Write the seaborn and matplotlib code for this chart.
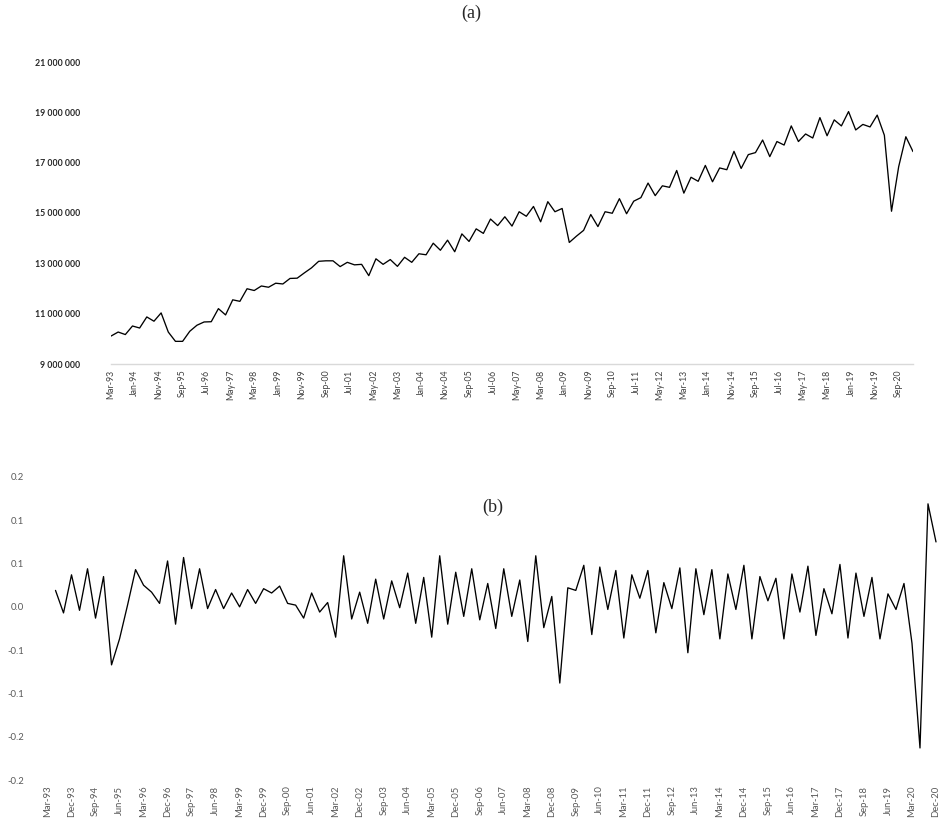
import numpy as np
import pandas as pd
import seaborn as sns
import matplotlib.pyplot as plt

# panel (a): quarterly level, Mar-93 .. Mar-21 (millions)
level_m = [
    10.11, 10.27, 10.17, 10.51, 10.43, 10.87, 10.70, 11.03, 10.27, 9.90,
    9.90, 10.30, 10.54, 10.67, 10.68, 11.20, 10.95, 11.55, 11.49, 11.99,
    11.92, 12.10, 12.05, 12.21, 12.18, 12.40, 12.41, 12.62, 12.82, 13.08,
    13.10, 13.10, 12.87, 13.04, 12.94, 12.96, 12.51, 13.18, 12.96, 13.15,
    12.88, 13.24, 13.04, 13.38, 13.34, 13.80, 13.52, 13.92, 13.46, 14.17,
    13.87, 14.37, 14.19, 14.76, 14.50, 14.85, 14.48, 15.05, 14.87, 15.26,
    14.65, 15.45, 15.05, 15.18, 13.83, 14.08, 14.31, 14.94, 14.46, 15.05,
    14.99, 15.57, 14.97, 15.47, 15.61, 16.19, 15.69, 16.08, 16.02, 16.69,
    15.79, 16.42, 16.26, 16.89, 16.24, 16.79, 16.72, 17.45, 16.77, 17.32,
    17.40, 17.90, 17.24, 17.84, 17.70, 18.46, 17.84, 18.14, 17.98, 18.79,
    18.07, 18.70, 18.46, 19.03, 18.30, 18.52, 18.42, 18.89, 18.09, 15.07,
    16.84, 18.03, 17.44,
]

# panel (b): quarterly growth, Jun-93 .. Dec-20
growth = [
    0.019, -0.007, 0.037, -0.004, 0.044, -0.013, 0.035, -0.067, -0.037, 0.002,
    0.043, 0.025, 0.017, 0.004, 0.053, -0.020, 0.057, -0.002, 0.044, -0.002,
    0.020, -0.002, 0.016, 0.000, 0.020, 0.004, 0.021, 0.016, 0.024, 0.004,
    0.002, -0.013, 0.016, -0.006, 0.005, -0.035, 0.059, -0.014, 0.017, -0.019,
    0.032, -0.014, 0.030, -0.001, 0.039, -0.019, 0.034, -0.035, 0.059, -0.020,
    0.040, -0.011, 0.044, -0.015, 0.027, -0.025, 0.044, -0.011, 0.031, -0.040,
    0.059, -0.024, 0.012, -0.088, 0.022, 0.019, 0.048, -0.032, 0.046, -0.003,
    0.042, -0.036, 0.037, 0.010, 0.042, -0.030, 0.028, -0.002, 0.045, -0.053,
    0.044, -0.009, 0.043, -0.037, 0.038, -0.003, 0.048, -0.037, 0.035, 0.007,
    0.033, -0.037, 0.038, -0.006, 0.047, -0.033, 0.021, -0.008, 0.049, -0.036,
    0.039, -0.011, 0.034, -0.037, 0.015, -0.003, 0.027, -0.042, -0.163, 0.119,
    0.075,
]

a_xlabels = ["Mar-93", "Jan-94", "Nov-94", "Sep-95", "Jul-96", "May-97", "Mar-98",
             "Jan-99", "Nov-99", "Sep-00", "Jul-01", "May-02", "Mar-03", "Jan-04",
             "Nov-04", "Sep-05", "Jul-06", "May-07", "Mar-08", "Jan-09", "Nov-09",
             "Sep-10", "Jul-11", "May-12", "Mar-13", "Jan-14", "Nov-14", "Sep-15",
             "Jul-16", "May-17", "Mar-18", "Jan-19", "Nov-19", "Sep-20"]
a_yticks = [9e6, 11e6, 13e6, 15e6, 17e6, 19e6, 21e6]
a_ylabels = ["9 000 000", "11 000 000", "13 000 000", "15 000 000",
             "17 000 000", "19 000 000", "21 000 000"]

b_xlabels = ["Mar-93", "Dec-93", "Sep-94", "Jun-95", "Mar-96", "Dec-96", "Sep-97",
             "Jun-98", "Mar-99", "Dec-99", "Sep-00", "Jun-01", "Mar-02", "Dec-02",
             "Sep-03", "Jun-04", "Mar-05", "Dec-05", "Sep-06", "Jun-07", "Mar-08",
             "Dec-08", "Sep-09", "Jun-10", "Mar-11", "Dec-11", "Sep-12", "Jun-13",
             "Mar-14", "Dec-14", "Sep-15", "Jun-16", "Mar-17", "Dec-17", "Sep-18",
             "Jun-19", "Mar-20", "Dec-20"]
b_yticks = [-0.20, -0.15, -0.10, -0.05, 0.0, 0.05, 0.10, 0.15]
b_ylabels = ["-0.2", "-0.2", "-0.1", "-0.1", "0.0", "0.1", "0.1", "0.2"]

sns.set_style("white")
plt.rcParams["font.family"] = ["Lato", "DejaVu Sans"]

df_a = pd.DataFrame({"month": np.arange(len(level_m)) * 3,
                     "value": np.array(level_m) * 1e6})
df_b = pd.DataFrame({"pos": np.arange(1, len(growth) + 1), "value": growth})

fig = plt.figure(figsize=(9.42, 8.19), dpi=100)

# (a)
ax1 = fig.add_axes([111 / 942, 1 - 364 / 819, (913 - 111) / 942, (364 - 62) / 819])
sns.lineplot(data=df_a, x="month", y="value", ax=ax1, color="black", lw=0.95)
ax1.set_xlim(0, 336)
ax1.set_ylim(9e6, 21e6)
ax1.set_xticks(np.arange(len(a_xlabels)) * 10)
ax1.set_xticklabels(a_xlabels, rotation=90, fontsize=6.3, color="#404040")
ax1.set_yticks(a_yticks)
ax1.set_yticklabels(a_ylabels, fontsize=6.3, color="#262626", fontweight="bold")
ax1.tick_params(axis="x", length=0, pad=4)
ax1.tick_params(axis="y", length=0, pad=22)
ax1.set_xlabel("")
ax1.set_ylabel("")
for s in ["top", "right", "left"]:
    ax1.spines[s].set_visible(False)
ax1.spines["bottom"].set_color("#d9d9d9")
ax1.spines["bottom"].set_linewidth(1.0)
fig.text(471 / 942, 1 - 13 / 819, "(a)", ha="center", va="center",
         fontsize=13, family="Liberation Serif")

# (b)
ax2 = fig.add_axes([43.5 / 942, 1 - 780 / 819, (940 - 43.5) / 942, (780 - 477) / 819])
sns.lineplot(data=df_b, x="pos", y="value", ax=ax2, color="black", lw=0.95)
ax2.set_xlim(-0.5, 111.5)
ax2.set_ylim(-0.20, 0.15)
ax2.set_xticks(np.arange(len(b_xlabels)) * 3)
ax2.set_xticklabels(b_xlabels, rotation=90, fontsize=6.8, color="#595959")
ax2.set_yticks(b_yticks)
ax2.set_yticklabels(b_ylabels, fontsize=6.8, color="#595959")
ax2.tick_params(axis="x", length=0, pad=4)
ax2.tick_params(axis="y", length=0, pad=14)
ax2.set_xlabel("")
ax2.set_ylabel("")
for s in ax2.spines.values():
    s.set_visible(False)
ax2.text(493 / 942, 1 - 507 / 819, "(b)", transform=fig.transFigure, ha="center",
         va="center", fontsize=13, family="Liberation Serif")

fig.savefig("out.png", dpi=100, facecolor="white")
